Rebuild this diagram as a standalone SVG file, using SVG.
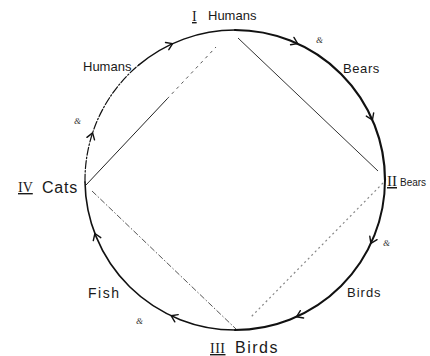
<svg xmlns="http://www.w3.org/2000/svg" xmlns:xlink="http://www.w3.org/1999/xlink" width="430" height="356" viewBox="0 0 430 356">
<style>
.lbl{font-family:"Liberation Sans","DejaVu Sans",sans-serif;fill:#1a1a1a}
.num{font-family:"Liberation Serif","DejaVu Serif",serif;fill:#1a1a1a;text-decoration:underline}
.mark{font-family:"Liberation Serif",serif;font-style:italic;font-size:9px;fill:#333}
.arc{fill:none;stroke:#111;stroke-linecap:round}
.chev{fill:none;stroke:#111;stroke-width:1.4;stroke-linecap:round;stroke-linejoin:round}
</style>
<defs>
<path id="chev" class="chev" d="M-6,-4 L0,0 L-6,4"/>
</defs>
<rect width="430" height="356" fill="#fff"/>
<g id="connectors">
<g id="edge-IV-I">
<path class="arc" d="M85,182 A150,150 0 0 1 138.6,65.1" stroke-width="1.2" stroke-dasharray="8 2 1.5 2"/>
<path class="arc" d="M138.6,65.1 A150,150 0 0 1 235,30" stroke-width="1.4"/>
<use xlink:href="#chev" transform="translate(92.6,132.9) rotate(288.3)"/>
<use xlink:href="#chev" transform="translate(172.6,43.6) rotate(-24.6)"/>
<text class="lbl" x="83" y="71" font-size="13">Humans</text>
<text class="mark" x="74" y="124">&amp;</text>
</g>
<g id="edge-I-II">
<path class="arc" d="M235,30 A150,150 0 0 1 385,180" stroke-width="2.2"/>
<use xlink:href="#chev" transform="translate(297.7,43.6) rotate(24.7)"/>
<use xlink:href="#chev" transform="translate(372.4,120) rotate(66.4)"/>
<text class="lbl" x="343" y="73" font-size="13" letter-spacing="0.6">Bears</text>
<text class="mark" x="316" y="43">&amp;</text>
</g>
<g id="edge-II-III">
<path class="arc" d="M385,180 A150,150 0 0 1 235,330" stroke-width="2"/>
<use xlink:href="#chev" transform="translate(370.9,243.4) rotate(115)"/>
<use xlink:href="#chev" transform="translate(296.5,316.8) rotate(155.8)"/>
<text class="lbl" x="347" y="297" font-size="13" letter-spacing="1">Birds</text>
<text class="mark" x="383" y="246">&amp;</text>
</g>
<g id="edge-III-IV">
<path class="arc" d="M235,330 A150,150 0 0 1 85,182" stroke-width="1.6"/>
<use xlink:href="#chev" transform="translate(171.1,315.7) rotate(205.2)"/>
<use xlink:href="#chev" transform="translate(94.9,233.5) rotate(249.1)"/>
<text class="lbl" x="88" y="298" font-size="14" letter-spacing="1.5">Fish</text>
<text class="mark" x="136" y="324">&amp;</text>
</g>
<g id="square">
<path d="M86,185 L167,99" stroke="#222" stroke-width="1" fill="none"/>
<path d="M167,99 L216,47" stroke="#555" stroke-width="1" stroke-dasharray="3 4" fill="none"/>
<path d="M238,38 L378,171" stroke="#333" stroke-width="1" fill="none"/>
<path d="M383,183 L250,318" stroke="#888" stroke-width="1.2" stroke-dasharray="2 3" fill="none"/>
<path d="M92,191 L236,329" stroke="#555" stroke-width="1" stroke-dasharray="6 2 1.5 2" fill="none"/>
</g>
</g>
<g id="node-I">
<text class="num" x="192" y="21" font-size="14">I</text>
<text class="lbl" x="208" y="20" font-size="13">Humans</text>
</g>
<g id="node-II">
<text class="num" x="387" y="186" font-size="15">II</text>
<text class="lbl" x="400" y="186" font-size="10">Bears</text>
</g>
<g id="node-III">
<text class="num" x="210" y="353" font-size="14" letter-spacing="0.5">III</text>
<text class="lbl" x="235" y="353" font-size="16" letter-spacing="1.5">Birds</text>
</g>
<g id="node-IV">
<text class="num" x="18" y="192" font-size="14">IV</text>
<text class="lbl" x="42" y="193" font-size="16" letter-spacing="0.8">Cats</text>
</g>
</svg>
